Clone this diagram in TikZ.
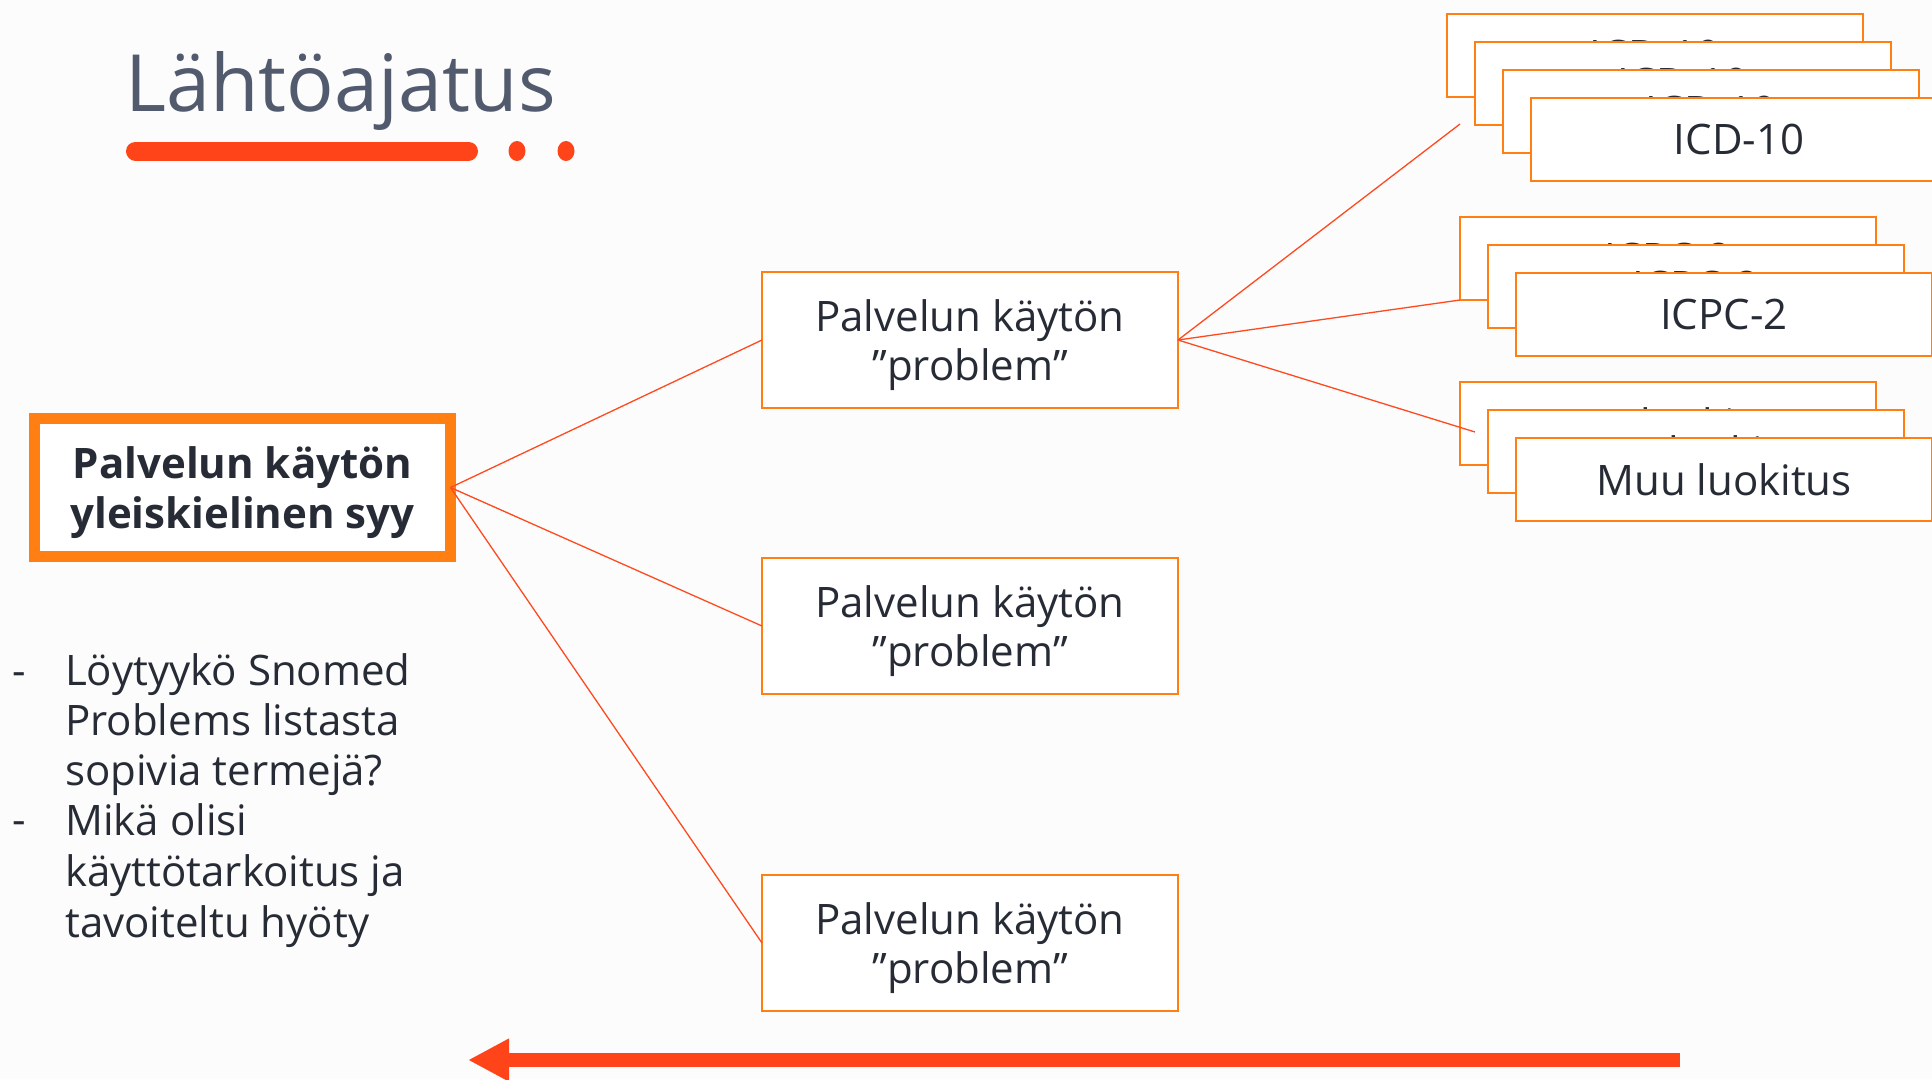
\documentclass[tikz,border=0pt]{standalone}
\usepackage{fontspec}
\setmainfont{Open Sans}
\usetikzlibrary{arrows.meta}
\definecolor{bgc}{HTML}{FCFCFC}
\definecolor{boxorange}{HTML}{FF7F13}
\definecolor{linered}{HTML}{FF4A1F}
\definecolor{arrowred}{HTML}{FF441A}
\definecolor{txt}{HTML}{262B35}
\definecolor{titlec}{HTML}{525B6E}
\tikzset{
  mainbox/.style={draw=boxorange, line width=11pt, fill=white, minimum width=416pt, minimum height=138pt, inner sep=0pt, outer sep=0pt, align=center, text depth=0pt, text=txt, font=\fontsize{42}{50}\selectfont\bfseries},
  probbox/.style={draw=boxorange, line width=2.2pt, fill=white, minimum width=416pt, minimum height=136pt, inner sep=0pt, outer sep=0pt, align=center, text depth=0pt, text=txt, font=\fontsize{42}{49}\selectfont},
  stackbox/.style={draw=boxorange, line width=2.2pt, fill=white, minimum width=416pt, minimum height=83pt, inner sep=0pt, outer sep=0pt, anchor=north west, text=txt, font=\fontsize{42}{48}\selectfont},
  conn/.style={draw=linered, line width=1.3pt},
  bullettext/.style={anchor=base west, text=txt, font=\fontsize{42}{50}\selectfont, inner sep=0pt},
}
\begin{document}
\begin{tikzpicture}[x=1pt,y=-1pt]
\fill[bgc] (0,0) rectangle (1932,1079);
\useasboundingbox (0,0) rectangle (1932,1079);
% title
\node[anchor=base west, inner sep=0pt, text=titlec, font=\fontsize{79}{86}\selectfont] (title) at (125,111) {Lähtöajatus};
\draw[arrowred, line width=19pt, line cap=round] (135.5,151) -- (468.5,151);
\fill[arrowred] (517,151) ellipse [x radius=8.5pt, y radius=10pt];
\fill[arrowred] (566,151) ellipse [x radius=8.5pt, y radius=10pt];
% main box
\node[mainbox] (main) at (242.5,487.5) {Palvelun käytön\\yleiskielinen syy};
% problem boxes
\node[probbox] (b1) at (970,340) {Palvelun käytön\\”problem”};
\node[probbox] (b2) at (970,626) {Palvelun käytön\\”problem”};
\node[probbox] (b3) at (970,943) {Palvelun käytön\\”problem”};
% ICD-10 stack
\node[stackbox] (icdA) at (1447,14) {ICD-10};
\node[stackbox] (icdB) at (1475,42) {ICD-10};
\node[stackbox] (icdC) at (1503,70) {ICD-10};
\node[stackbox] (icdD) at (1531,98) {ICD-10};
% ICPC-2 stack
\node[stackbox] (icpcA) at (1460,217) {ICPC-2};
\node[stackbox] (icpcB) at (1488,245) {ICPC-2};
\node[stackbox] (icpcC) at (1516,273) {ICPC-2};
% Muu luokitus stack
\node[stackbox] (muuA) at (1460,382) {Muu luokitus};
\coordinate (muuEnd) at (1475,432);
\coordinate (icdEnd) at (1460,124);
\draw[conn] (b1.east) -- (muuEnd);
\node[stackbox] (muuB) at (1488,410) {Muu luokitus};
\node[stackbox] (muuC) at (1516,438) {Muu luokitus};
% connectors
\draw[conn] (main.east) -- (b1.west);
\draw[conn] (main.east) -- (b2.west);
\draw[conn] (main.east) -- (b3.west);
\draw[conn] (b1.east) -- (icdEnd);
\draw[conn] (b1.east) -- (icpcA.south west);
% bullet list
\node[anchor=base west, inner sep=0pt, text=txt, font=\fontsize{42}{50}\selectfont] (d1) at (12,685) {-};
\node[anchor=base west, inner sep=0pt, text=txt, font=\fontsize{42}{50}\selectfont] (d2) at (12,834) {-};
\node[bullettext] (l1) at (65,685) {Löytyykö Snomed};
\node[bullettext] (l2) at (65,735) {Problems listasta};
\node[bullettext] (l3) at (65,785) {sopivia termejä?};
\node[bullettext] (l4) at (65,835) {Mikä olisi};
\node[bullettext] (l5) at (65,886) {käyttötarkoitus ja};
\node[bullettext] (l6) at (65,937) {tavoiteltu hyöty};
% bottom arrow
\coordinate (arrS) at (1680,1060);
\coordinate (arrE) at (468,1060);
\draw[arrowred, line width=14pt, -{Triangle[length=41pt,width=40pt]}] (arrS) -- (arrE);
\end{tikzpicture}
\end{document}
